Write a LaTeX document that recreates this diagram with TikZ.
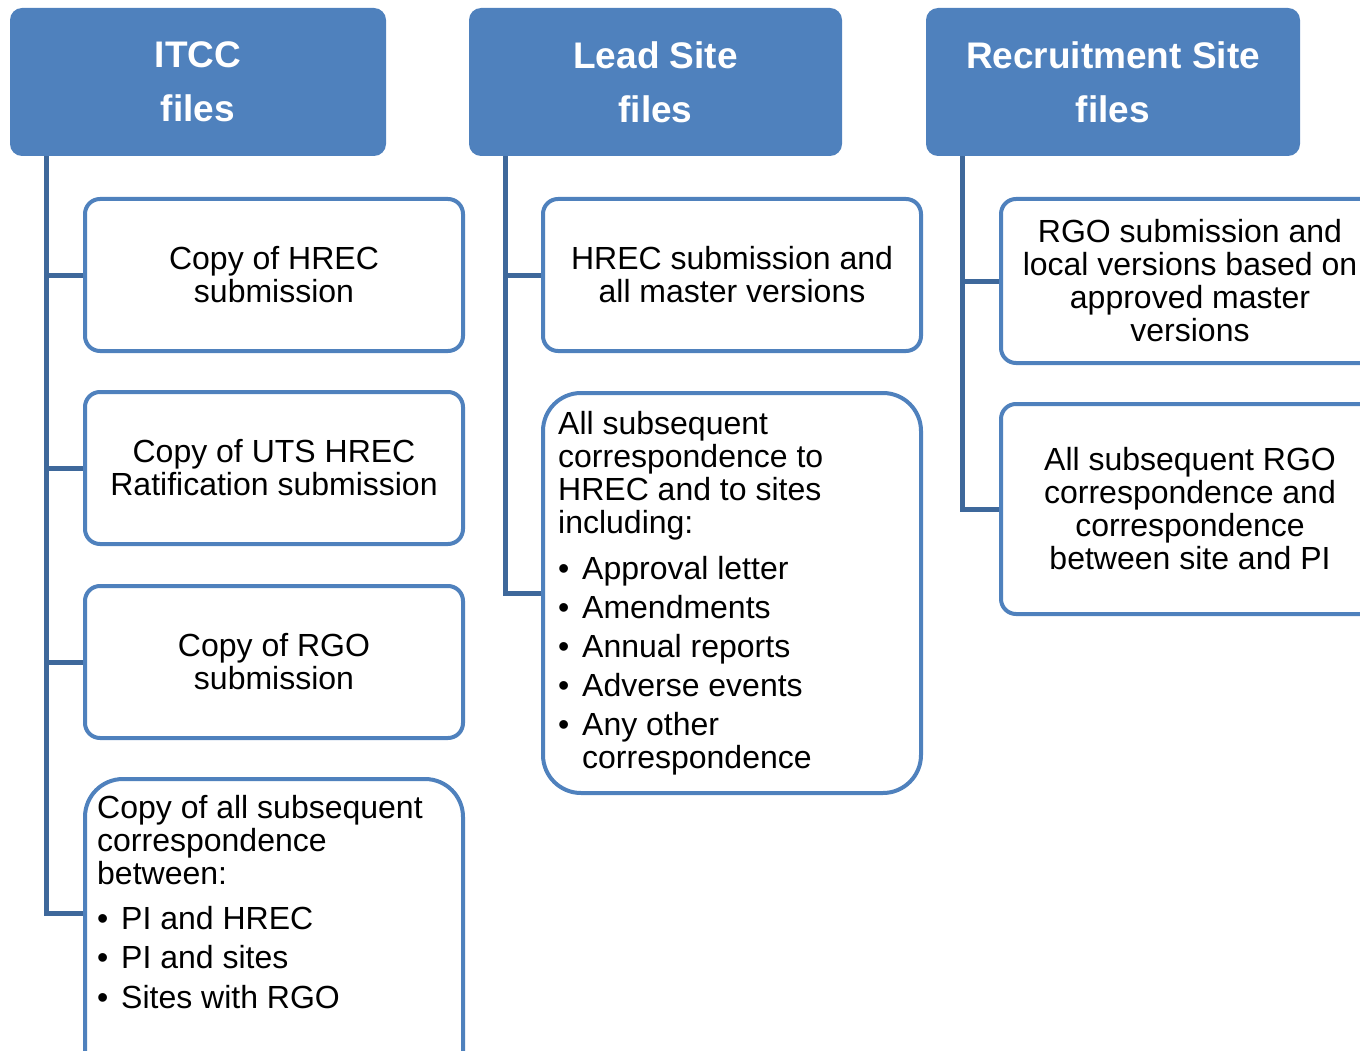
\documentclass[tikz,border=0pt]{standalone}
\usepackage{fontspec}
\setmainfont{Liberation Sans}
\definecolor{hdrblue}{RGB}{79,129,189}
\definecolor{lineblue}{RGB}{62,104,155}
\newcommand{\bodyfont}{\fontsize{32}{33}\selectfont}
\newcommand{\bitem}[1]{\makebox[24pt][l]{\textbullet}#1}
\begin{document}
\begin{tikzpicture}[x=1pt,y=-1pt,
  header/.style={fill=hdrblue, rounded corners=12pt, inner sep=0pt,
    text=white, align=center, font=\bfseries\fontsize{37}{54}\selectfont},
  filebox/.style={draw=hdrblue, line width=4pt, fill=white, rounded corners=15pt,
    minimum width=378pt, inner sep=0pt, align=center, font=\bodyfont},
  bigbox/.style={filebox, rounded corners=38pt},
  listtext/.style={inner sep=0pt, align=left, font=\bodyfont, anchor=north west},
  conn/.style={draw=lineblue, line width=5pt}]
\useasboundingbox (0,0) rectangle (1360,1051);
\clip (0,0) rectangle (1360,1051);

% column headers
\node[header, minimum width=376pt, minimum height=148pt] (ih) at (198,82) {ITCC\\files};
\node[header, minimum width=373pt, minimum height=148pt] (lh) at (655.5,82) {Lead Site\\files};
\node[header, minimum width=374pt, minimum height=148pt] (rh) at (1113,82) {Recruitment Site\\files};

% trunk start points under each header
\coordinate (itrunk) at (ih.south -| 46,0);
\coordinate (ltrunk) at (lh.south -| 505,0);
\coordinate (rtrunk) at (rh.south -| 962,0);

% ITCC files
\node[filebox, minimum height=152pt] (ib1) at (274,275) {Copy of HREC\\submission};
\node[filebox, minimum height=152pt] (ib2) at (274,468) {Copy of UTS HREC\\Ratification submission};
\node[filebox, minimum height=152pt] (ib3) at (274,662) {Copy of RGO\\submission};
\node[bigbox, minimum height=311pt] (ib4) at (274,934.5) {};
\node[listtext] (ib4t) at (97,795) {Copy of all subsequent\\correspondence\\between:\\[12pt]
  \bitem{PI and HREC}\\[6.5pt]
  \bitem{PI and sites}\\[6.5pt]
  \bitem{Sites with RGO}};

% Lead Site files
\node[filebox, minimum height=152pt] (lb1) at (732,275) {HREC submission and\\all master versions};
\node[bigbox, minimum height=400pt] (lb2) at (732,593) {};
\node[listtext] (lb2t) at (558,411) {All subsequent\\correspondence to\\HREC and to sites\\including:\\[13pt]
  \bitem{Approval letter}\\[6pt]
  \bitem{Amendments}\\[6pt]
  \bitem{Annual reports}\\[6pt]
  \bitem{Adverse events}\\[6pt]
  \bitem{Any other}\\
  \hspace*{24pt}correspondence};

% Recruitment Site files
\node[filebox, minimum height=164pt] (rb1) at (1190,281) {RGO submission and\\local versions based on\\approved master\\versions};
\node[filebox, minimum height=210pt] (rb2) at (1190,509) {All subsequent RGO\\correspondence and\\correspondence\\between site and PI};

% connectors
\draw[conn] (itrunk) |- (ib1.west);
\draw[conn] (itrunk) |- (ib2.west);
\draw[conn] (itrunk) |- (ib3.west);
\draw[conn] (itrunk) |- ([yshift=-136pt]ib4.north west);
\draw[conn] (ltrunk) |- (lb1.west);
\draw[conn] (ltrunk) |- (lb2.west);
\draw[conn] (rtrunk) |- (rb1.west);
\draw[conn] (rtrunk) |- (rb2.west);
\end{tikzpicture}
\end{document}
